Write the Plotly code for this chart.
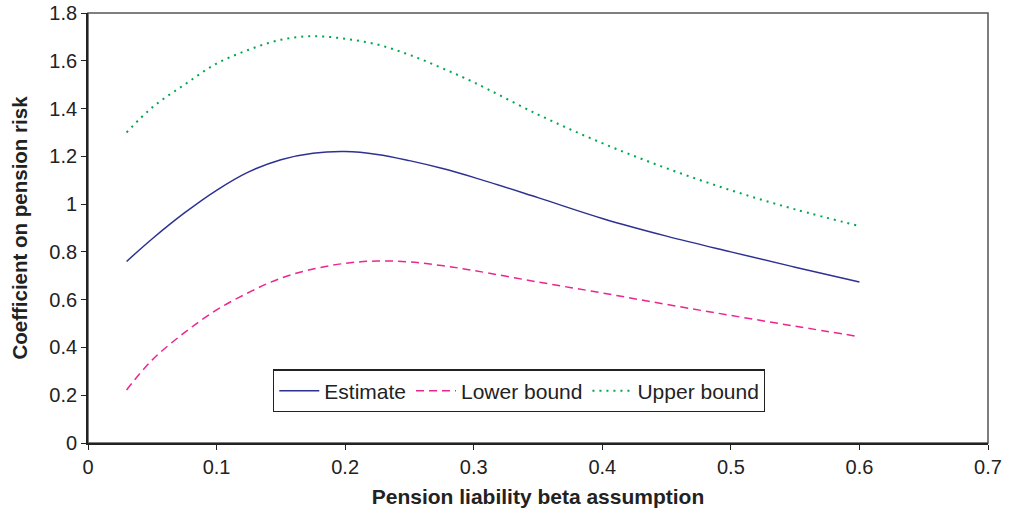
import plotly.graph_objects as go

beta = [0.03, 0.05, 0.075, 0.1, 0.125, 0.15, 0.175, 0.2, 0.225, 0.25, 0.275, 0.3, 0.35, 0.4, 0.45, 0.5, 0.55, 0.6]
estimate = [0.76, 0.855, 0.963, 1.058, 1.135, 1.186, 1.213, 1.22, 1.208, 1.182, 1.15, 1.112, 1.027, 0.94, 0.866, 0.8, 0.736, 0.674]
lower = [0.222, 0.348, 0.462, 0.557, 0.63, 0.69, 0.728, 0.752, 0.762, 0.758, 0.743, 0.722, 0.674, 0.628, 0.58, 0.534, 0.489, 0.445]
upper = [1.3, 1.405, 1.5, 1.588, 1.646, 1.688, 1.703, 1.692, 1.668, 1.625, 1.57, 1.51, 1.375, 1.255, 1.15, 1.058, 0.978, 0.908]

font = "Liberation Sans, Arial, Helvetica, sans-serif"
ink = "#222222"

fig = go.Figure()
fig.add_trace(go.Scatter(x=beta, y=estimate, mode="lines", name="Estimate",
                         line=dict(color="#2E3192", width=1.5, shape="spline")))
fig.add_trace(go.Scatter(x=beta, y=lower, mode="lines", name="Lower bound",
                         line=dict(color="#EC268F", width=1.5, dash="8px,5px", shape="spline")))
fig.add_trace(go.Scatter(x=beta, y=upper, mode="lines", name="Upper bound",
                         line=dict(color="#00A651", width=2, dash="2px,5px", shape="spline")))

fig.add_shape(type="rect", xref="paper", yref="paper", x0=0, y0=0, x1=1, y1=1,
              line=dict(color="#555555", width=1.5), layer="below")

fig.update_layout(
    width=1012, height=513,
    margin=dict(l=88, r=24, t=13, b=70),
    paper_bgcolor="white", plot_bgcolor="white",
    showlegend=True,
    legend=dict(orientation="h", x=0.479, y=0.121, xanchor="center", yanchor="middle",
                bordercolor=ink, borderwidth=1.2, bgcolor="white",
                font=dict(family=font, size=21, color=ink),
                itemwidth=40, tracegroupgap=0),
    xaxis=dict(range=[0, 0.7], dtick=0.1, tick0=0, showgrid=False, zeroline=False,
               automargin=False,
               showline=True, linecolor=ink, linewidth=1.8,
               ticks="outside", ticklen=5, tickcolor=ink,
               tickfont=dict(family=font, size=20, color=ink),
               title=dict(text="<b>Pension liability beta assumption</b>",
                          font=dict(family=font, size=21, color=ink), standoff=12)),
    yaxis=dict(range=[0, 1.8], dtick=0.2, tick0=0, showgrid=False, zeroline=False,
               automargin=False,
               showline=True, linecolor=ink, linewidth=1.8,
               ticks="outside", ticklen=5, tickcolor=ink,
               tickfont=dict(family=font, size=20, color=ink),
               title=dict(text="<b>Coefficient on pension risk</b>",
                          font=dict(family=font, size=20.5, color=ink), standoff=16)),
)

fig.write_html("out.html", config={"displayModeBar": False},
               post_script="document.body.style.margin='0';document.body.style.overflow='hidden';")
